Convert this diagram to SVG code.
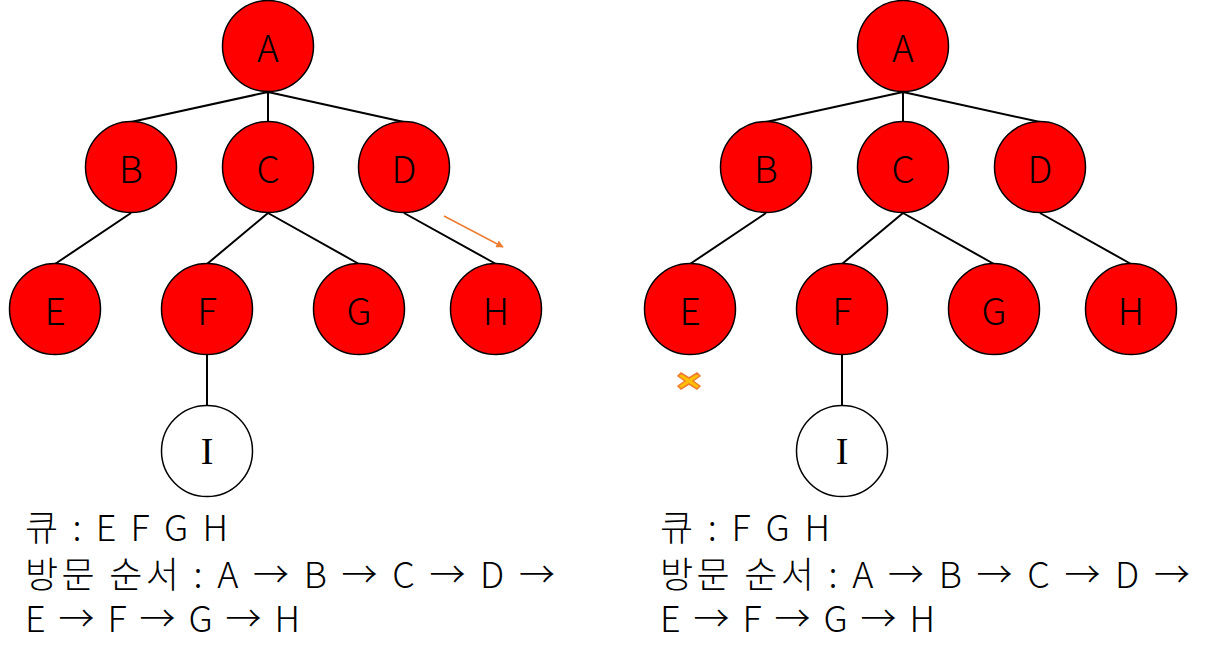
<svg xmlns="http://www.w3.org/2000/svg" width="1227" height="663" viewBox="0 0 1227 663">
<defs>
<style>
.n{fill:#ff0000;stroke:#000;stroke-width:1.5}
.w{fill:#fff;stroke:#000;stroke-width:1.5}
.t{font-family:"Noto Sans CJK KR","Noto Sans",sans-serif;font-size:37px;font-weight:300;fill:#000;text-anchor:middle;dominant-baseline:central}
.ts{font-family:"Liberation Serif",serif;font-size:38px;fill:#000;text-anchor:middle;dominant-baseline:central}
.e{stroke:#000;stroke-width:2;fill:none}
.lbl{font-family:"Noto Sans CJK KR","Noto Sans",sans-serif;font-size:36px;font-weight:300;fill:#000}
</style>
<marker id="ah" viewBox="0 0 10 10" refX="9" refY="5" markerWidth="5" markerHeight="5" orient="auto"><path d="M0,0L10,5L0,10z" fill="#ed7d31"/></marker>
</defs>
<g id="connectors">
<path class="e" d="M268,92L131,122M268,92L268,122M268,92L404,122M131,213L55,264M268,213L207,264M268,213L359,264M404,213L496,264M207,355L207,406"/>
<path class="e" d="M903,92L766,122M903,92L903,122M903,92L1040,122M766,213L690,264M903,213L842,264M903,213L994,264M1040,213L1131,264M842,355L842,406"/>
<line x1="444" y1="216" x2="503" y2="247" stroke="#ed7d31" stroke-width="1.5" marker-end="url(#ah)"/>
</g>
<g id="L-A"><circle class="n" cx="268" cy="46" r="45.5"/><text class="t" x="268" y="46">A</text></g>
<g id="L-B"><circle class="n" cx="131" cy="167" r="45.5"/><text class="t" x="131" y="167">B</text></g>
<g id="L-C"><circle class="n" cx="268" cy="167" r="45.5"/><text class="t" x="268" y="167">C</text></g>
<g id="L-D"><circle class="n" cx="404" cy="167" r="45.5"/><text class="t" x="404" y="167">D</text></g>
<g id="L-E"><circle class="n" cx="55" cy="309" r="45.5"/><text class="t" x="55" y="309">E</text></g>
<g id="L-F"><circle class="n" cx="207" cy="309" r="45.5"/><text class="t" x="207" y="309">F</text></g>
<g id="L-G"><circle class="n" cx="359" cy="309" r="45.5"/><text class="t" x="359" y="309">G</text></g>
<g id="L-H"><circle class="n" cx="496" cy="309" r="45.5"/><text class="t" x="496" y="309">H</text></g>
<g id="L-I"><circle class="w" cx="207" cy="451" r="45.5"/><text class="ts" x="207" y="451">I</text></g>
<g id="R-A"><circle class="n" cx="903" cy="46" r="45.5"/><text class="t" x="903" y="46">A</text></g>
<g id="R-B"><circle class="n" cx="766" cy="167" r="45.5"/><text class="t" x="766" y="167">B</text></g>
<g id="R-C"><circle class="n" cx="903" cy="167" r="45.5"/><text class="t" x="903" y="167">C</text></g>
<g id="R-D"><circle class="n" cx="1040" cy="167" r="45.5"/><text class="t" x="1040" y="167">D</text></g>
<g id="R-E"><circle class="n" cx="690" cy="309" r="45.5"/><text class="t" x="690" y="309">E</text></g>
<g id="R-F"><circle class="n" cx="842" cy="309" r="45.5"/><text class="t" x="842" y="309">F</text></g>
<g id="R-G"><circle class="n" cx="994" cy="309" r="45.5"/><text class="t" x="994" y="309">G</text></g>
<g id="R-H"><circle class="n" cx="1131" cy="309" r="45.5"/><text class="t" x="1131" y="309">H</text></g>
<g id="R-I"><circle class="w" cx="842" cy="451" r="45.5"/><text class="ts" x="842" y="451">I</text></g>
<g id="xmark"><path d="M681,373L689,378L697,373L700,376L693,381L700,386L697,389L689,384L681,389L678,386L685,381L678,376Z" fill="#ffc000" stroke="#ed7d31" stroke-width="1.5"/></g>
<g id="left-text" class="lbl">
<text x="25" y="541" textLength="203" lengthAdjust="spacing">큐 : E F G H</text>
<text x="25" y="588" textLength="530" lengthAdjust="spacing">방문 순서 : A → B → C → D →</text>
<text x="25" y="632" textLength="275" lengthAdjust="spacing">E → F → G → H</text>
</g>
<g id="right-text" class="lbl">
<text x="660" y="541" textLength="170" lengthAdjust="spacing">큐 : F G H</text>
<text x="660" y="588" textLength="530" lengthAdjust="spacing">방문 순서 : A → B → C → D →</text>
<text x="660" y="632" textLength="275" lengthAdjust="spacing">E → F → G → H</text>
</g>
</svg>
